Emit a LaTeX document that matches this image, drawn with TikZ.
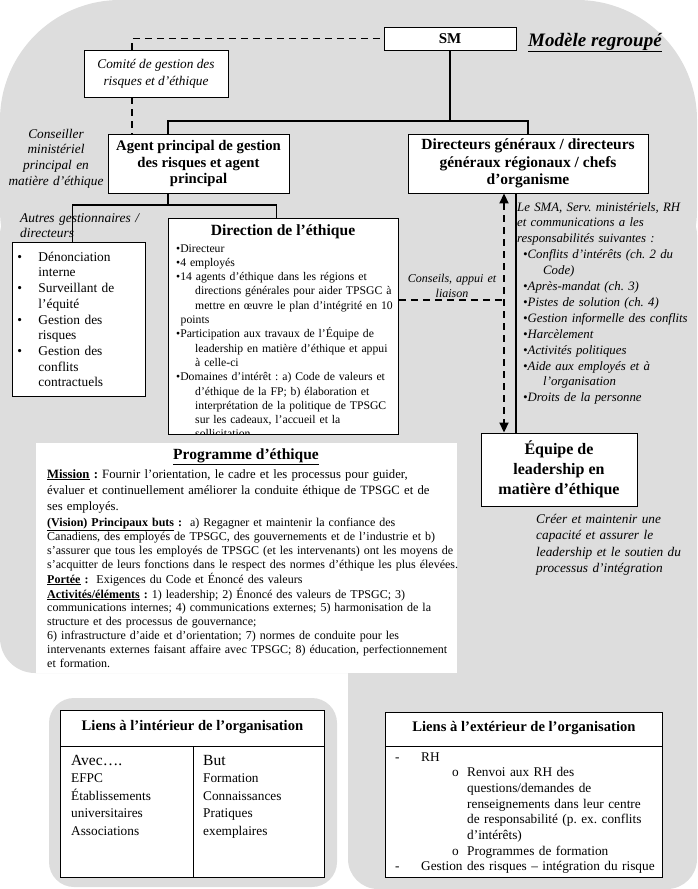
\documentclass[tikz,border=0pt]{standalone}
\usepackage{fontspec}
\setmainfont{Liberation Serif}
\usetikzlibrary{arrows.meta, positioning}
\definecolor{bggray}{RGB}{221,221,221}
\newcommand{\fsz}[2]{\fontsize{#1}{#2}\selectfont}
\newcommand{\blt}{\makebox[21pt][l]{\textbullet}}
\tikzset{
  orgbox/.style={rectangle, draw=black, fill=white, line width=0.9pt, align=center, inner sep=2pt},
  txt/.style={inner sep=0pt, align=left, anchor=base west},
  solidln/.style={line width=1.8pt},
  dashln/.style={line width=1.8pt, dash pattern=on 7pt off 5pt},
  dblarr/.style={dashln, {Triangle[length=10pt,width=9pt]}-{Triangle[length=10pt,width=9pt]}},
}

\begin{document}
\frenchspacing
\begin{tikzpicture}[x=1pt, y=-1pt]
  \useasboundingbox (0,0) rectangle (698,889);
  \fill[bggray, rounded corners=120pt] (0,0) rectangle (697,330);
  \fill[bggray, rounded corners=35pt] (0,200) rectangle (697,673);
  \fill[bggray, rounded corners=30pt] (348,560) rectangle (697,889);
  \fill[bggray, rounded corners=25pt] (49,698) rectangle (337,887);

  \node[orgbox, minimum width=132pt, minimum height=23pt, font=\bfseries\fsz{15}{17}] (sm) at (450,38.5) {SM};
  \node[anchor=base west, inner sep=0pt, font=\bfseries\itshape\fsz{19}{21}] (modele) at (528,46) {\underline{Modèle regroupé}};
  \node[orgbox, minimum width=144pt, minimum height=47pt, font=\itshape\fsz{13.3}{17}] (comite) at (156,73.5) {Comité de gestion des\\risques et d’éthique};
  \node[orgbox, minimum width=181pt, minimum height=59pt, font=\bfseries\fsz{14.7}{16.5}] (agent) at (198.5,163.5) {Agent principal de gestion\\des risques et agent\\principal};
  \node[orgbox, minimum width=240pt, minimum height=59pt, font=\bfseries\fsz{15.5}{17.5}] (dg) at (528,163.5) {Directeurs généraux / directeurs\\généraux régionaux / chefs\\d’organisme};
  \node[txt, anchor=base, align=center, text width=100pt, font=\itshape\fsz{13.3}{15.7}] (conseiller) at (56,138) {Conseiller\\ministériel\\principal en\\matière d’éthique};
  \node[txt, text width=150pt, font=\itshape\fsz{13.4}{15}] (autres) at (20,222) {Autres gestionnaires /\\directeurs};

  \node[orgbox, anchor=north west, minimum width=133pt, minimum height=154pt, text width=123pt, align=left, inner sep=0pt, font=\fsz{13.4}{15.7}] (outils) at (12,242) {\blt Dénonciation\\\hspace*{21pt}interne\\\blt Surveillant de\\\hspace*{21pt}l’équité\\\blt Gestion des\\\hspace*{21pt}risques\\\blt Gestion des\\\hspace*{21pt}conflits\\\hspace*{21pt}contractuels};

  \node[orgbox, anchor=north west, minimum width=230pt, minimum height=216pt, inner sep=0pt] (dir) at (168,218) {};
  \node[inner sep=0pt, font=\bfseries\fsz{15.6}{17}] (dirtitle) at (283,232) {Direction de l’éthique};
  \begin{scope}
    \clip (dir.north west) rectangle (dir.south east);
    \node[txt, text width=320pt, font=\fsz{11.7}{14.3}] (dirlist) at (176,252) {\textbullet Directeur\\\textbullet 4 employés\\\textbullet 14 agents d’éthique dans les régions et\\\hspace*{19pt}directions générales pour aider TPSGC à\\\hspace*{19pt}mettre en œuvre le plan d’intégrité en 10\\\hspace*{4.5pt}points\\\textbullet Participation aux travaux de l’Équipe de\\\hspace*{19pt}leadership en matière d’éthique et appui\\\hspace*{19pt}à celle-ci\\\textbullet Domaines d’intérêt : a) Code de valeurs et\\\hspace*{19pt}d’éthique de la FP; b) élaboration et\\\hspace*{19pt}interprétation de la politique de TPSGC\\\hspace*{19pt}sur les cadeaux, l’accueil et la\\\hspace*{19pt}sollicitation};
  \end{scope}
  \draw[line width=0.9pt] (dir.north west) rectangle (dir.south east);

  \node[txt, anchor=base, align=center, text width=110pt, font=\itshape\fsz{12}{15}] (conseils) at (452,282) {Conseils, appui et\\liaison};
  \node[txt, text width=240pt, font=\itshape\fsz{12.8}{15.9}] (roles) at (517,211) {Le SMA, Serv. ministériels, RH\\et communications a les\\responsabilités suivantes :\\\hspace*{6pt}\textbullet Conflits d’intérêts (ch. 2 du\\\hspace*{26pt}Code)\\\hspace*{6pt}\textbullet Après-mandat (ch. 3)\\\hspace*{6pt}\textbullet Pistes de solution (ch. 4)\\\hspace*{6pt}\textbullet Gestion informelle des conflits\\\hspace*{6pt}\textbullet Harcèlement\\\hspace*{6pt}\textbullet Activités politiques\\\hspace*{6pt}\textbullet Aide aux employés et à\\\hspace*{26pt}l’organisation\\\hspace*{6pt}\textbullet Droits de la personne};

  \node[orgbox, minimum width=156pt, minimum height=73pt, font=\bfseries\fsz{16}{20}] (equipe) at (559,469.5) {Équipe de\\leadership en\\matière d’éthique};
  \node[txt, text width=220pt, font=\itshape\fsz{13.3}{16.5}] (creer) at (536,523) {Créer et maintenir une\\capacité et assurer le\\leadership et le soutien du\\processus d’intégration};

  \node[fill=white, anchor=north west, minimum width=421pt, minimum height=230pt, inner sep=0pt] (prog) at (36,443) {};
  \node[inner sep=0pt, font=\bfseries\fsz{15.5}{17}] (progtitle) at (246,457) {\underline{Programme d’éthique}};
  \node[txt, text width=500pt, font=\fsz{12.7}{16}] (mission) at (47,478) {\underline{\textbf{Mission}}\textbf{ :} Fournir l’orientation, le cadre et les processus pour guider,\\évaluer et continuellement améliorer la conduite éthique de TPSGC et de\\ses employés.};
  \node[txt, text width=500pt, font=\fsz{12}{14.2}] (vision) at (47,526) {\underline{\textbf{(Vision) Principaux buts}}\textbf{ :}\ \ a) Regagner et maintenir la confiance des\\Canadiens, des employés de TPSGC, des gouvernements et de l’industrie et b)\\s’assurer que tous les employés de TPSGC (et les intervenants) ont les moyens de\\s’acquitter de leurs fonctions dans le respect des normes d’éthique les plus élevées.};
  \node[txt, text width=500pt, font=\fsz{12}{14.2}] (portee) at (47,583) {\underline{\textbf{Portée}}\textbf{ :}\ \ Exigences du Code et Énoncé des valeurs};
  \node[txt, text width=500pt, font=\fsz{12}{13.9}] (activites) at (47,598) {\underline{\textbf{Activités/éléments}}\textbf{ :} 1) leadership; 2) Énoncé des valeurs de TPSGC; 3)\\communications internes; 4) communications externes; 5) harmonisation de la\\structure et des processus de gouvernance;\\6) infrastructure d’aide et d’orientation; 7) normes de conduite pour les\\intervenants externes faisant affaire avec TPSGC; 8) éducation, perfectionnement\\et formation.};

  \node[orgbox, anchor=north west, minimum width=264pt, minimum height=167pt, inner sep=0pt] (liensint) at (60,710) {};
  \node[font=\bfseries\fsz{14.6}{16}] (liensinttitle) at ([yshift=-17pt]liensint.north) {Liens à l’intérieur de l’organisation};
  \draw[line width=0.9pt] ([yshift=-36pt]liensint.north west) -- ([yshift=-36pt]liensint.north east);
  \draw[line width=0.9pt] ([xshift=133pt,yshift=-36pt]liensint.north west) -- ([xshift=133pt]liensint.south west);
  \node[txt, text width=115pt, font=\fsz{13.3}{17.5}] (avec) at (71,765) {{\fsz{15.5}{17.5}Avec….}\\EFPC\\Établissements\\universitaires\\Associations};
  \node[txt, text width=115pt, font=\fsz{13.3}{17.5}] (but) at (203,765) {{\fsz{15.5}{17.5}But}\\Formation\\Connaissances\\Pratiques\\exemplaires};

  \node[orgbox, anchor=north west, minimum width=277pt, minimum height=165pt, inner sep=0pt] (liensext) at (385,712) {};
  \node[font=\bfseries\fsz{14.6}{16}] (liensexttitle) at ([yshift=-16pt]liensext.north) {Liens à l’extérieur de l’organisation};
  \draw[line width=0.9pt] ([yshift=-34pt]liensext.north west) -- ([yshift=-34pt]liensext.north east);
  \node[txt, text width=320pt, font=\fsz{13.3}{15.7}] (ext) at (395,761) {\makebox[26pt][l]{-}RH\\\hspace*{57pt}\makebox[15pt][l]{o}Renvoi aux RH des\\\hspace*{72pt}questions/demandes de\\\hspace*{72pt}renseignements dans leur centre\\\hspace*{72pt}de responsabilité (p. ex. conflits\\\hspace*{72pt}d’intérêts)\\\hspace*{57pt}\makebox[15pt][l]{o}Programmes de formation\\\makebox[26pt][l]{-}Gestion des risques – intégration du risque};

  \coordinate (smjoin) at (450,121);
  \coordinate (agjoin) at (168,205);
  \coordinate (liaison) at (504,300);
  \draw[solidln] (sm.south) -- (smjoin);
  \draw[solidln] ([xshift=-30.5pt]agent.north) |- (smjoin) -| (dg.north);
  \draw[solidln] ([xshift=-30.5pt]agent.south) -- (agjoin);
  \draw[solidln] ([xshift=-6.5pt]outils.north) |- (agjoin) -| ([xshift=-7pt]dir.north);
  \draw[dashln] ([xshift=-24pt]comite.north) |- (sm.west);
  \draw[dashln] ([xshift=-24pt]comite.south) -- ([xshift=-24pt]comite.south |- agent.north);
  \draw[dblarr] ([xshift=-24pt]dg.south) -- ([xshift=-24pt]dg.south |- equipe.north);
  \draw[solidln] ([xshift=-12pt]dg.south) -- ([xshift=-12pt]dg.south |- equipe.north);
  \draw[dashln] (dir.east |- liaison) -- (liaison);
\end{tikzpicture}
\end{document}
